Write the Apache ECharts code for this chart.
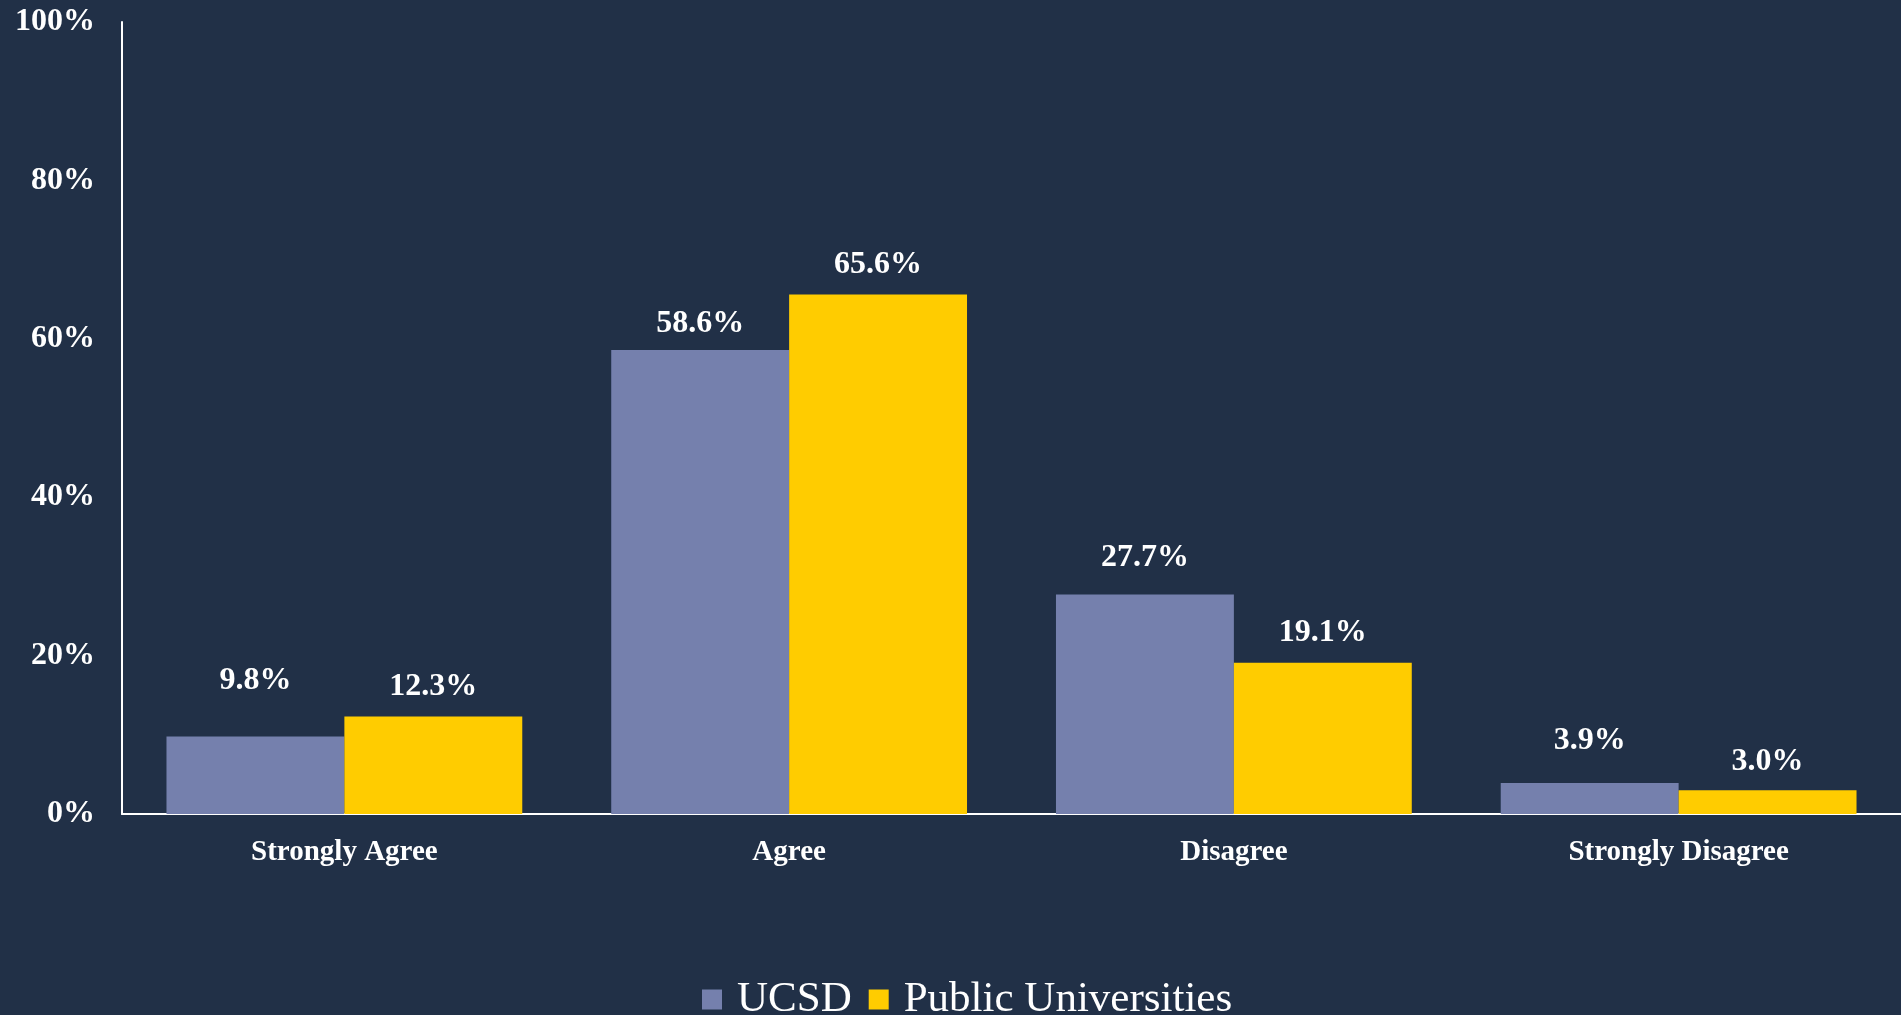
<!DOCTYPE html>
<html>
<head>
<meta charset="utf-8">
<script src="https://cdn.jsdelivr.net/npm/echarts@6/dist/echarts.min.js"></script>
<style>
html,body{margin:0;padding:0;background:#213047;}
#chart{width:1901px;height:1015px;}
</style>
</head>
<body>
<div id="chart"></div>
<script>
const categories = ['Strongly Agree', 'Agree', 'Disagree', 'Strongly Disagree'];
const seriesNames = ['UCSD', 'Public Universities'];
const ucsd = [9.8, 58.6, 27.7, 3.9];
const publicUniv = [12.3, 65.6, 19.1, 3.0];
const yTicks = [0, 20, 40, 60, 80, 100];

// label distances above bars (label placement only)
const ucsdLabelDist = [40, 10, 21, 26];
const publicLabelDist = [14, 14, 14, 13];

const FONT = '"Liberation Serif", "Times New Roman", serif';
const chart = echarts.init(document.getElementById('chart'));

function items(vals, dists) {
  return vals.map((v, i) => ({ value: v, label: { distance: dists[i] } }));
}

const labelStyle = {
  show: true,
  position: 'top',
  color: '#ffffff',
  fontFamily: FONT,
  fontWeight: 'bold',
  fontSize: 32,
  formatter: p => p.value.toFixed(1) + '%'
};

chart.setOption({
  backgroundColor: '#213047',
  animation: false,
  grid: { left: 122, right: 0, top: 22, bottom: 201, containLabel: false },
  legend: {
    left: 702,
    top: 978,
    padding: 0,
    itemWidth: 20,
    itemHeight: 20,
    itemGap: 17,
    icon: 'rect',
    data: seriesNames,
    textStyle: {
      color: '#ffffff',
      fontFamily: FONT,
      fontSize: 43,
      padding: [0, 0, 11, 10]
    }
  },
  xAxis: {
    type: 'category',
    data: categories,
    axisLine: { show: true, lineStyle: { color: '#ffffff', width: 2 } },
    axisTick: { show: false },
    axisLabel: {
      color: '#ffffff',
      fontFamily: FONT,
      fontWeight: 'bold',
      fontSize: 29,
      margin: 24
    }
  },
  yAxis: {
    type: 'value',
    min: yTicks[0],
    max: yTicks[yTicks.length - 1],
    interval: yTicks[1] - yTicks[0],
    splitLine: { show: false },
    axisTick: { show: false },
    axisLine: { show: true, lineStyle: { color: '#ffffff', width: 2 } },
    axisLabel: {
      color: '#ffffff',
      fontFamily: FONT,
      fontWeight: 'bold',
      fontSize: 32,
      margin: 27,
      formatter: '{value}%'
    }
  },
  series: [
    {
      name: seriesNames[0],
      type: 'bar',
      data: items(ucsd, ucsdLabelDist),
      itemStyle: { color: '#7580ad' },
      barGap: '0%',
      barCategoryGap: '20%',
      label: labelStyle
    },
    {
      name: seriesNames[1],
      type: 'bar',
      data: items(publicUniv, publicLabelDist),
      itemStyle: { color: '#ffcc00' },
      barGap: '0%',
      barCategoryGap: '20%',
      label: labelStyle
    }
  ]
});
</script>
</body>
</html>
